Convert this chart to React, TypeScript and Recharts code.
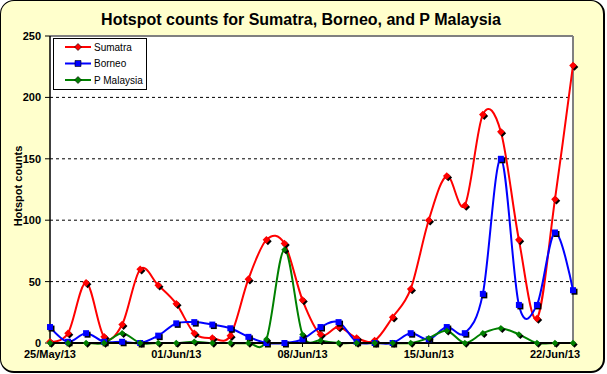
import React from 'react';
import { LineChart, Line, XAxis, YAxis, CartesianGrid, Legend, ReferenceLine } from 'recharts';

const dates = [
  '25/May/13', '26/May/13', '27/May/13', '28/May/13', '29/May/13', '30/May/13', '31/May/13',
  '01/Jun/13', '02/Jun/13', '03/Jun/13', '04/Jun/13', '05/Jun/13', '06/Jun/13', '07/Jun/13',
  '08/Jun/13', '09/Jun/13', '10/Jun/13', '11/Jun/13', '12/Jun/13', '13/Jun/13', '14/Jun/13',
  '15/Jun/13', '16/Jun/13', '17/Jun/13', '18/Jun/13', '19/Jun/13', '20/Jun/13', '21/Jun/13',
  '22/Jun/13', '23/Jun/13',
];
const sumatra = [1, 8, 49, 5, 15, 60, 47, 32, 8, 4, 6, 52, 84, 81, 35, 7, 13, 4, 2, 21, 44, 100, 136, 112, 186, 172, 84, 20, 117, 226];
const borneo = [13, 1, 8, 1, 1, 0, 6, 16, 17, 15, 12, 5, 0, 0, 3, 13, 17, 1, 0, 0, 8, 3, 13, 8, 40, 150, 31, 31, 90, 43];
const pMalaysia = [0, 0, 0, 0, 8, 0, 0, 0, 1, 0, 0, 0, 3, 76, 7, 2, 0, 0, 0, 0, 0, 4, 10, 0, 8, 12, 7, 0, 0, 0];
const yTicks = [0, 50, 100, 150, 200, 250];
const xTickLabels = ['25/May/13', '01/Jun/13', '08/Jun/13', '15/Jun/13', '22/Jun/13'];

const data = dates.map((d, i) => ({
  date: d,
  Sumatra: sumatra[i],
  Borneo: borneo[i],
  'P Malaysia': pMalaysia[i],
}));

const FONT = '"Liberation Sans", Arial, sans-serif';

const series = [
  { key: 'Sumatra', color: '#FF0000', shape: 'diamond', r: 3.8 },
  { key: 'Borneo', color: '#0000FF', shape: 'square', r: 3 },
  { key: 'P Malaysia', color: '#008000', shape: 'diamond', r: 3.2 },
];

// Excel-like smoothing (Catmull-Rom / cardinal with tension 0)
class ExcelSmooth {
  _context: any; _k: number; _line: number = NaN; _point = 0;
  _x0 = NaN; _x1 = NaN; _x2 = NaN; _y0 = NaN; _y1 = NaN; _y2 = NaN;
  constructor(context: any) { this._context = context; this._k = 1 / 6; }
  areaStart() { this._line = 0; }
  areaEnd() { this._line = NaN; }
  lineStart() {
    this._x0 = this._x1 = this._x2 = this._y0 = this._y1 = this._y2 = NaN;
    this._point = 0;
  }
  lineEnd() {
    switch (this._point) {
      case 2: this._context.lineTo(this._x2, this._y2); break;
      case 3: this._seg(this._x1, this._y1); break;
    }
    if (this._line || (this._line !== 0 && this._point === 1)) this._context.closePath();
    this._line = 1 - this._line;
  }
  _seg(x: number, y: number) {
    this._context.bezierCurveTo(
      this._x1 + this._k * (this._x2 - this._x0),
      this._y1 + this._k * (this._y2 - this._y0),
      this._x2 + this._k * (this._x1 - x),
      this._y2 + this._k * (this._y1 - y),
      this._x2, this._y2,
    );
  }
  point(x: number, y: number) {
    x = +x; y = +y;
    switch (this._point) {
      case 0: this._point = 1; this._line ? this._context.lineTo(x, y) : this._context.moveTo(x, y); break;
      case 1: this._point = 2; this._x1 = x; this._y1 = y; break;
      case 2: this._point = 3; this._seg(x, y); break;
      default: this._seg(x, y); break;
    }
    this._x0 = this._x1; this._x1 = this._x2; this._x2 = x;
    this._y0 = this._y1; this._y1 = this._y2; this._y2 = y;
  }
}
const excelCurve = (context: any) => new ExcelSmooth(context);

const diamondPath = (cx: number, cy: number, r: number) =>
  `M${cx},${cy - r}L${cx + r},${cy}L${cx},${cy + r}L${cx - r},${cy}Z`;
const squarePath = (cx: number, cy: number, r: number) =>
  `M${cx - r},${cy - r}H${cx + r}V${cy + r}H${cx - r}Z`;

function makeDot(color: string, shape: string, r: number) {
  const pathFn = shape === 'diamond' ? diamondPath : squarePath;
  return (props: any) => {
    const { cx, cy, index } = props;
    if (cx == null || cy == null) return <g key={`e-${color}-${index}`} />;
    return (
      <g key={`d-${color}-${index}`}>
        <path d={pathFn(cx + 1.5, cy + 1.5, r)} fill="#000" />
        <path d={pathFn(cx, cy, r)} fill={color} />
      </g>
    );
  };
}

const LegendBox = () => (
  <svg width={94} height={52} style={{ display: 'block' }}>
    <rect x={0.5} y={0.5} width={93} height={51} fill="#fff" stroke="#000" strokeWidth={1} />
    {series.map((s, i) => {
      const cy = 9 + i * 16.5;
      const pathFn = s.shape === 'diamond' ? diamondPath : squarePath;
      return (
        <g key={s.key}>
          <line x1={12} x2={38} y1={cy} y2={cy} stroke={s.color} strokeWidth={2} />
          <path d={pathFn(25, cy, s.shape === 'square' ? 3 : 3.5)} fill={s.color} stroke="#000" strokeWidth={0.6} />
          <text x={41} y={cy + 3.6} fontSize={10} fontFamily={FONT} fill="#000">{s.key}</text>
        </g>
      );
    })}
  </svg>
);

export default function App() {
  return (
    <div style={{ position: 'absolute', left: 0, top: 0, width: 607, height: 374 }}>
      <div
        style={{
          position: 'absolute', left: 0, top: 0, width: 605, height: 373,
          boxSizing: 'border-box', background: '#FFFFCC', border: '1px solid #000',
          borderRightWidth: 2, borderBottomWidth: 2, borderRadius: 14,
        }}
      />
      <div style={{ position: 'absolute', left: 0, top: 0 }}>
        <LineChart width={607} height={374} data={data} margin={{ top: 36, right: 34, bottom: 11, left: 0 }}>
          <CartesianGrid vertical={false} stroke="#000" strokeDasharray="3 3" fill="#fff" />
          <XAxis
            dataKey="date"
            ticks={xTickLabels}
            interval={0}
            height={20}
            axisLine={{ stroke: '#000', strokeWidth: 2 }}
            tickLine={{ stroke: '#000' }}
            tickSize={4}
            tickMargin={3}
            tick={{ fontSize: 11, fontWeight: 'bold', fill: '#000', fontFamily: FONT }}
          />
          <YAxis
            domain={[0, 250]}
            ticks={yTicks}
            width={50}
            interval={0}
            axisLine={{ stroke: '#000', strokeWidth: 1.5 }}
            tickLine={{ stroke: '#000' }}
            tickSize={5}
            tickMargin={4}
            tick={{ fontSize: 11, fontWeight: 'bold', fill: '#000', fontFamily: FONT }}
          />
          <ReferenceLine y={250} stroke="#808080" strokeWidth={2} />
          <ReferenceLine x={dates[dates.length - 1]} stroke="#808080" strokeWidth={2} />
          <Legend
            layout="vertical"
            align="center"
            verticalAlign="middle"
            width={94}
            height={52}
            wrapperStyle={{ left: 53, top: 38, width: 94, height: 52 }}
            content={() => <LegendBox />}
          />
          {series.map((s) => (
            <Line
              key={s.key}
              dataKey={s.key}
              type={excelCurve as any}
              stroke={s.color}
              strokeWidth={2}
              dot={makeDot(s.color, s.shape, s.r)}
              activeDot={false}
              isAnimationActive={false}
            />
          ))}
        </LineChart>
      </div>
      <svg width={607} height={374} style={{ position: 'absolute', left: 0, top: 0, pointerEvents: 'none' }}>
        <text x={301} y={25} textAnchor="middle" fontSize={16} fontWeight="bold" fontFamily={FONT} fill="#000">
          Hotspot counts for Sumatra, Borneo, and P Malaysia
        </text>
        <text
          x={22}
          y={186}
          transform="rotate(-90 22 186)"
          textAnchor="middle"
          fontSize={11}
          fontWeight="bold"
          fontFamily={FONT}
          fill="#000"
        >
          Hotspot counts
        </text>
      </svg>
    </div>
  );
}
